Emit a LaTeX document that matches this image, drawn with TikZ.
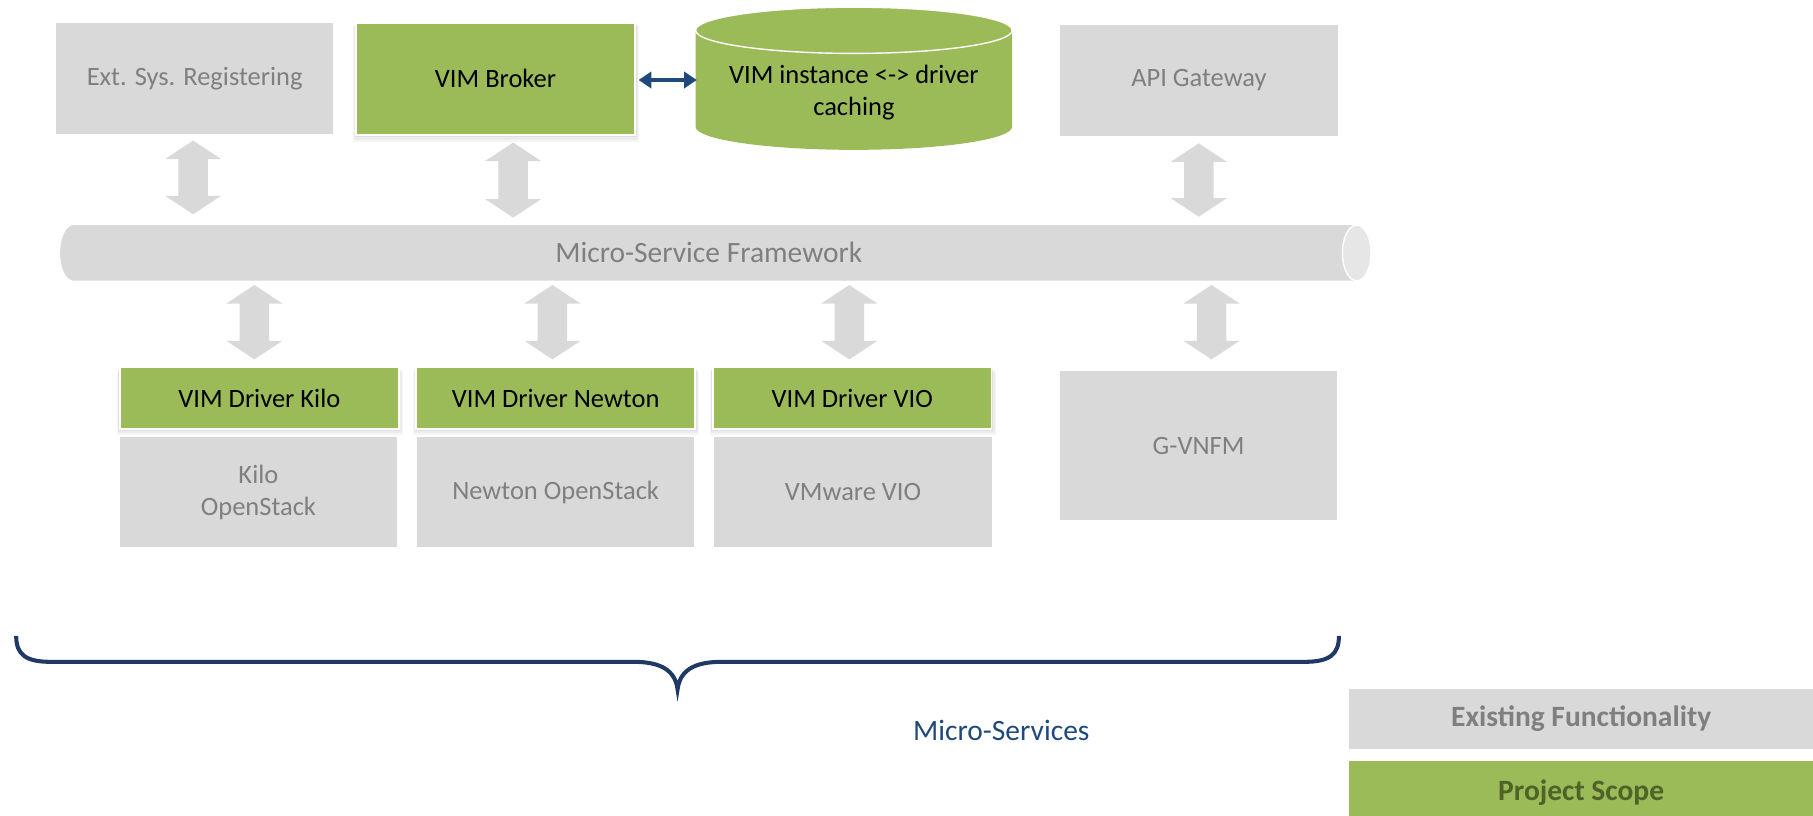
\documentclass[tikz,border=0pt]{standalone}
\usepackage{fontspec}
\setmainfont{Carlito}
\usetikzlibrary{shadows,arrows.meta}
\definecolor{boxgray}{HTML}{D9D9D9}
\definecolor{txtgray}{HTML}{7F7F7F}
\definecolor{vgreen}{HTML}{9BBB59}
\definecolor{navy}{HTML}{1F497D}
\definecolor{bracenavy}{HTML}{1F3864}
\definecolor{scopetxt}{HTML}{4F6228}
\definecolor{pipeend}{HTML}{E6E6E6}
\newcommand\gdarrow[3]{%
  \fill[boxgray] (#1,#2) -- ({#1+24.25},{#2+16}) -- ({#1+12.75},{#2+16}) -- ({#1+12.75},{#3-16}) -- ({#1+24.25},{#3-16}) -- (#1,#3) -- ({#1-24.25},{#3-16}) -- ({#1-12.75},{#3-16}) -- ({#1-12.75},{#2+16}) -- ({#1-24.25},{#2+16}) -- cycle;}
\begin{document}
\begin{tikzpicture}[x=1pt,y=-1pt,
  lbl/.style={font=\fontsize{22.9}{27.4}\selectfont, align=center, inner sep=0pt},
  biglbl/.style={lbl, font=\fontsize{25.5}{30}\selectfont},
  graybox/.style={lbl, fill=boxgray, text=txtgray, minimum width=240pt},
  greenbox/.style={lbl, fill=vgreen, text=black, draw=white, line width=1.5pt, minimum width=241pt,
     drop shadow={opacity=0.10, shadow xshift=0pt, shadow yshift=-1.5pt, shadow scale=1.012},
     drop shadow={opacity=0.09, shadow xshift=0.5pt, shadow yshift=-3pt, shadow scale=1.02},
     drop shadow={opacity=0.07, shadow xshift=0.5pt, shadow yshift=-4.5pt, shadow scale=1.028}},
  legend/.style={biglbl, font=\fontsize{25.5}{30}\selectfont\bfseries, minimum width=401pt, minimum height=52.5pt}
]
\useasboundingbox (0,0) rectangle (1568,705.7);

% top row
\node[graybox, minimum height=96.3pt] (ext) at (168.35,67.75) {Ext. Sys. Registering};
\node[greenbox, minimum height=97pt] (broker) at (428.55,68.15) {VIM Broker};
\node[graybox, minimum height=95.8pt] (api) at (1036.9,69.5) {API Gateway};

% cylinder
\fill[vgreen] (601.6,26.2) -- (601.6,109.6) arc[start angle=180, end angle=0, x radius=136.9, y radius=20] -- (875.4,26.2) -- cycle;
\filldraw[fill=vgreen, draw=white, line width=1.2pt] (738.5,26.2) ellipse[x radius=136.9, y radius=20];
\coordinate (cacheW) at (601.6,69.2);
\node[lbl, text=black] (cache) at (738.5,80) {VIM instance <-> driver\\caching};

\draw[navy, line width=3pt, {Triangle[length=11pt,width=14pt]}-{Triangle[length=11pt,width=14pt]}] (broker.east |- cacheW) ++(2.5,0) -- ([xshift=1pt]cacheW);

% pipe
\fill[boxgray] (64,194.6) arc[start angle=270, end angle=90, x radius=12, y radius=24.1] -- (1173.4,242.8) -- (1173.4,194.6) -- cycle;
\filldraw[fill=pipeend, draw=white, line width=1.2pt] (1173.4,218.7) ellipse[x radius=12.4, y radius=24.1];
\node[biglbl, text=txtgray] (msf) at (613,218.7) {Micro-Service Framework};

% gray double arrows
\gdarrow{167}{121.6}{185.3}
\gdarrow{443.8}{123.3}{188.2}
\gdarrow{1036.8}{124}{187.4}
\gdarrow{220}{246.5}{310.8}
\gdarrow{477.8}{246.5}{310.8}
\gdarrow{734.5}{246.5}{310.8}
\gdarrow{1047.8}{246.5}{310.8}

% lower boxes
\node[graybox, minimum height=95.7pt] (kiloos) at (223.5,425.65) {Kilo\\OpenStack};
\node[graybox, minimum height=95.7pt] (newtonos) at (480.55,425.65) {Newton OpenStack};
\node[graybox, minimum height=95.7pt] (vio) at (737.8,425.65) {VMware VIO};
\node[greenbox, minimum height=53.3pt] (kilo) at (224.3,344.45) {VIM Driver Kilo};
\node[greenbox, minimum height=53.3pt] (newton) at (480.55,344.45) {VIM Driver Newton};
\node[greenbox, minimum height=53.3pt] (viod) at (737.05,344.45) {VIM Driver VIO};
\node[graybox, minimum height=128.8pt] (gvnfm) at (1036.6,385.4) {G-VNFM};

% brace
\draw[bracenavy, line width=3.5pt] (14,550) .. controls (14,566) and (22,572.4) .. (44,572.4) -- (548,572.4) .. controls (572,572.4) and (584,580) .. (586,596.3) .. controls (588,580) and (600,572.4) .. (624,572.4) -- (1128,572.4) .. controls (1150,572.4) and (1158,566) .. (1158,550);
\node[biglbl, text=navy] (ms) at (866,632) {Micro-Services};

% legend
\node[legend, fill=boxgray, text=txtgray] (leg1) at (1367.5,621.75) {Existing Functionality};
\fill[vgreen] (1167,658) rectangle (1568,705.7);
\node[biglbl, font=\fontsize{25.5}{30}\selectfont\bfseries, text=scopetxt] (leg2) at (1367.5,685.7) {Project Scope};
\end{tikzpicture}
\end{document}
